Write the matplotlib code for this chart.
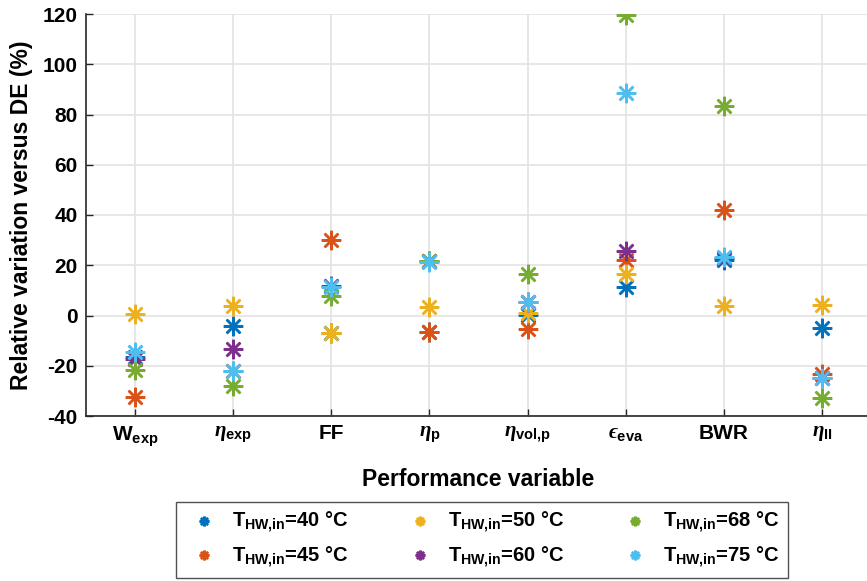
import matplotlib
matplotlib.use("Agg")
import matplotlib.pyplot as plt
import numpy as np

plt.rcParams['font.family'] = ['Liberation Sans', 'DejaVu Sans']
plt.rcParams['font.weight'] = 'bold'
plt.rcParams['axes.unicode_minus'] = False
plt.rcParams['mathtext.fontset'] = 'custom'
plt.rcParams['mathtext.rm'] = 'Liberation Sans:bold'
plt.rcParams['mathtext.bf'] = 'Liberation Sans:bold'
plt.rcParams['mathtext.it'] = 'Liberation Serif:italic'
plt.rcParams['mathtext.fallback'] = 'stix'

# performance variables (x axis)
variables = [r'$\mathrm{W_{exp}}$', r'$\eta_{\mathrm{exp}}$', 'FF', r'$\eta_{\mathrm{p}}$',
             r'$\eta_{\mathrm{vol{,}p}}$', r'$ϵ_{\mathrm{eva}}$', 'BWR', r'$\eta_{\mathrm{II}}$']

# hot water inlet temperatures
temps = [40, 45, 50, 60, 68, 75]
colors = ['#0072BD', '#D95319', '#EDB120', '#7E2F8E', '#77AC30', '#4DBEEE']

# relative variation versus DE (%), one list per temperature
var_40 = [-16.5, -4.0, -7.0, -6.6, 0.2, 11.2, 22.1, -5.1]
var_45 = [-32.3, -22.0, 30.0, -6.5, -5.5, 22.1, 42.0, -23.4]
var_50 = [0.5, 3.8, -7.1, 3.2, 0.9, 16.5, 3.9, 4.2]
var_60 = [-17.4, -13.3, 11.7, 21.5, 5.5, 25.8, 23.0, -25.0]
var_68 = [-21.7, -27.9, 7.8, 21.5, 16.5, 119.6, 83.5, -33.0]
var_75 = [-14.4, -22.0, 11.5, 21.4, 5.5, 88.4, 23.4, -25.0]
series = [var_40, var_45, var_50, var_60, var_68, var_75]

fig = plt.figure(figsize=(8.67, 5.81), dpi=100)
ax = fig.add_axes([86/867, 1 - 416/581, 785/867, 402/581])

x = np.arange(1, len(variables) + 1)
handles = []
for t, c, vals in zip(temps, colors, series):
    h, = ax.plot(x, vals, linestyle='none', marker=(8, 2, 0), color=c,
                 markersize=14, markeredgewidth=1.8,
                 label=r'$\mathrm{T_{HW{,}in}}$=%d °C' % t)
    handles.append(h)

ax.set_xlim(0.5, 8.5)
ax.set_ylim(-40, 120)
ax.set_yticks(np.arange(-40, 121, 20))
ax.set_xticks(x)
ax.set_xticklabels(variables, fontsize=15)
ax.tick_params(axis='y', labelsize=15)
ax.tick_params(direction='in', length=5, width=1, color='#262626', pad=6)
for lab in ax.get_yticklabels():
    lab.set_fontweight('bold')

ax.grid(True, color='#e3e3e3', linewidth=1.2)
ax.set_axisbelow(True)
for s in ['top', 'right']:
    ax.spines[s].set_visible(False)
for s in ['left', 'bottom']:
    ax.spines[s].set_color('#262626')
    ax.spines[s].set_linewidth(1.2)

ax.set_ylabel('Relative variation versus DE (%)', fontsize=16.5, fontweight='bold')
ax.yaxis.set_label_coords(-0.068, 0.5)
ax.set_xlabel('Performance variable', fontsize=16.5, fontweight='bold', labelpad=14)

leg = fig.legend(handles=handles, loc='center', ncol=3,
                 bbox_to_anchor=(482/867, 1 - 540/581), fontsize=14.5,
                 markerscale=0.5, frameon=True, fancybox=False,
                 columnspacing=2.5, handletextpad=0.4, borderpad=0.4,
                 labelspacing=0.45)
leg.get_frame().set_edgecolor('#262626')
leg.get_frame().set_linewidth(1.0)

fig.savefig('out.png', dpi=100)
